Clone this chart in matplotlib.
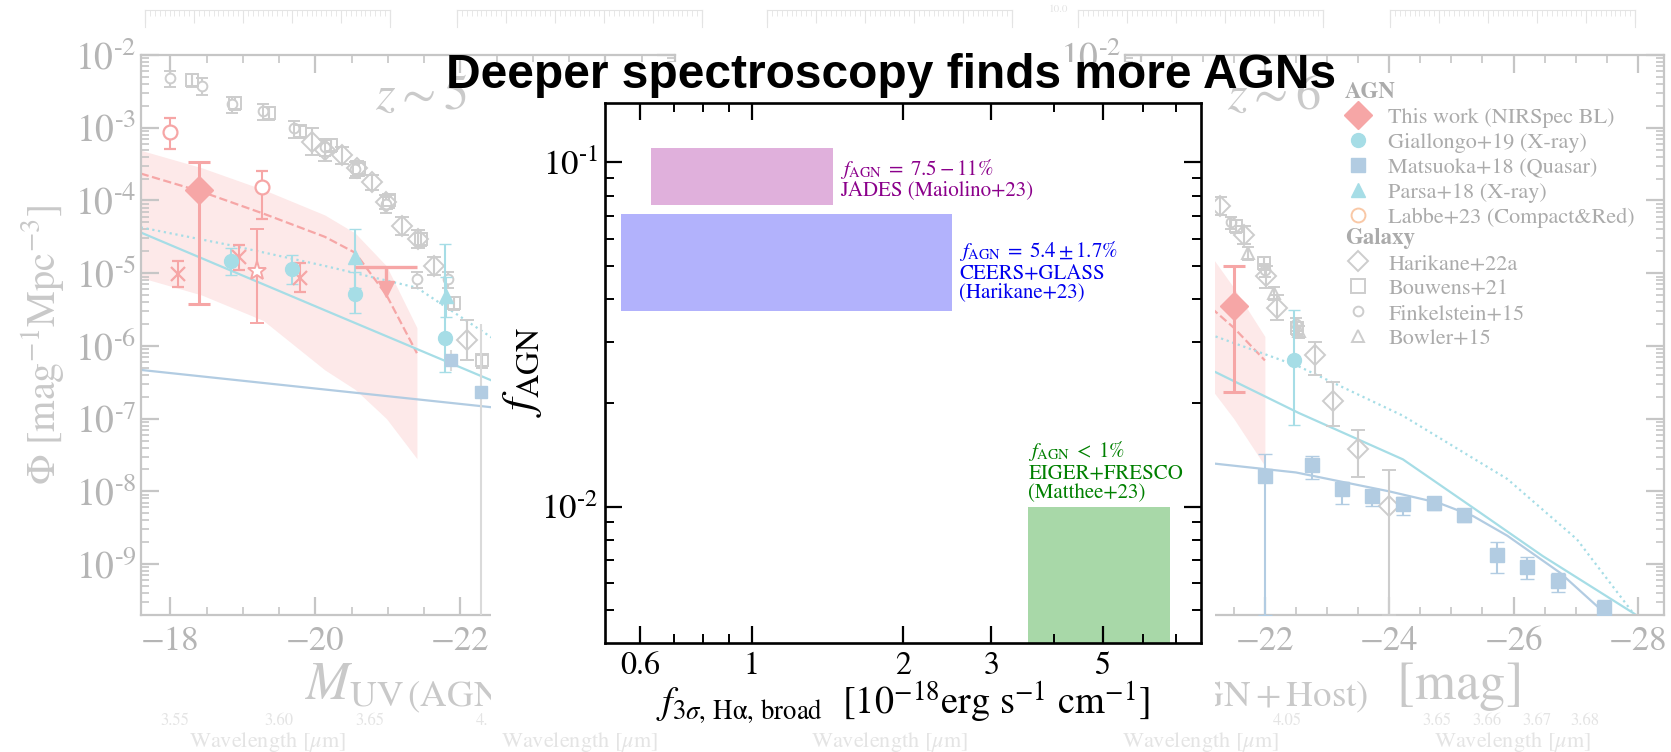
import numpy as np
import matplotlib
matplotlib.use('Agg')
from matplotlib import pyplot as plt
from matplotlib.lines import Line2D
from matplotlib.patches import Rectangle
from matplotlib.ticker import FixedLocator, FuncFormatter, LogLocator, MultipleLocator, NullFormatter

plt.rcParams['font.family'] = ['STIXGeneral', 'DejaVu Sans']
plt.rcParams['mathtext.fontset'] = 'stix'

W, H = 1671, 752

# ---------------- central panel data ----------------
jades_x = [0.63, 1.45]
jades_y = [0.075, 0.11]
ceers_x = [0.55, 2.5]
ceers_y = [0.037, 0.071]
eiger_x = [3.55, 6.8]
eiger_y = [0.001, 0.01]
x_major = [0.6, 1, 2, 3, 5]
x_minor = [0.7, 0.8, 0.9, 4, 6, 7]

# ---------------- background z~5 panel (log10 Phi) ----------------
fink5_M = [-18.0, -18.43, -18.85, -19.28, -19.7, -20.13, -20.55, -20.98, -21.4, -21.83]
fink5_p = [-2.32, -2.42, -2.67, -2.77, -3.01, -3.27, -3.57, -4.05, -5.08, -5.08]
bouw5_M = [-18.3, -18.89, -19.36, -19.79, -20.21, -20.6, -21.02, -21.45, -21.91, -22.3]
bouw5_p = [-2.34, -2.66, -2.80, -3.05, -3.24, -3.56, -4.00, -4.53, -5.41, -6.20]
hari5_M = [-19.95, -20.13, -20.36, -20.57, -20.78, -20.98, -21.2, -21.42, -21.63, -22.09]
hari5_p = [-3.19, -3.31, -3.38, -3.56, -3.75, -4.02, -4.35, -4.53, -4.90, -5.92]
hari5_e = [0.18, 0.15, 0.12, 0.1, 0.1, 0.1, 0.12, 0.12, 0.12, 0.28]

tw5_M = [-18.4]
tw5_p = [-3.85]
tw5_lo = [-5.43]
tw5_hi = [-3.47]
ocir5_M = [-18.0, -19.27]
ocir5_p = [-3.06, -3.82]
ocir5_lo = [-3.29, -4.25]
ocir5_hi = [-2.86, -3.59]
cross5_M = [-18.1, -18.94, -19.79]
cross5_p = [-5.01, -4.78, -5.06]
cross5_e = [0.18, 0.17, 0.2]
star5_M = [-19.19]
star5_p = [-4.97]
star5_lo = [-5.68]
star5_hi = [-4.39]
gial5_M = [-18.83, -19.68, -20.54, -21.79]
gial5_p = [-4.83, -4.94, -5.28, -5.89]
gial5_lo = [-5.02, -5.15, -5.55, -6.36]
gial5_hi = [-4.65, -4.75, -4.98, -4.60]
pars5_M = [-20.54, -21.8]
pars5_p = [-4.78, -5.31]
pars5_lo = [-5.20, -5.60]
pars5_hi = [-4.39, -5.05]
mats5_M = [-21.87, -22.29]
mats5_p = [-6.19, -6.64]
mats5_lo = [-6.35, -9.70]
mats5_hi = [-6.05, -5.70]
ulim5_M = [-20.55, -21.4]
ulim5_p = -4.92
ulim5_arrow = [-20.97, -5.22]

band5_M = [-17.59, -18.43, -19.28, -20.13, -20.55, -20.98, -21.4]
band5_hi = [-3.31, -3.55, -3.85, -4.20, -4.45, -4.90, -5.75]
band5_lo = [-5.06, -5.30, -5.65, -6.33, -6.60, -7.00, -7.55]
dash5_p = [-3.63, -3.88, -4.18, -4.50, -4.72, -5.30, -6.10]
cyan5_M = [-17.59, -20.13, -22.68]
cyan5_p = [-4.44, -5.51, -6.58]
dot5_M = [-17.59, -18.85, -20.13, -21.4, -22.68]
dot5_p = [-4.37, -4.62, -4.90, -5.20, -6.05]
steel5_M = [-17.59, -22.68]
steel5_p = [-6.33, -6.87]

# ---------------- background z~6 panel ----------------
hari6_M = [-21.28, -21.67, -22.01, -22.2, -22.81, -23.09, -23.5, -24.0]
hari6_p = [-4.08, -4.47, -5.04, -5.48, -6.13, -6.76, -7.42, -8.20]
hari6_lo = [-4.2, -4.6, -5.2, -5.65, -6.4, -7.1, -7.8, -9.7]
hari6_hi = [-3.95, -4.35, -4.9, -5.3, -5.95, -6.5, -7.15, -7.7]
bouw6_M = [-21.53, -21.98, -22.52]
bouw6_p = [-4.35, -4.86, -5.75]
fink6_M = [-21.45, -22.0, -22.5]
fink6_p = [-4.30, -4.95, -5.70]
bowl6_M = [-21.73, -22.15, -22.55]
bowl6_p = [-4.72, -5.27, -5.80]

tw6_M = [-21.51]
tw6_p = [-5.45]
tw6_lo = [-6.63]
tw6_hi = [-4.90]
gial6_M = [-22.47]
gial6_p = [-6.20]
gial6_lo = [-7.09]
gial6_hi = [-5.50]
mats6_M = [-22.0, -22.75, -23.24, -23.73, -24.22, -24.72, -25.2, -25.73, -26.21, -26.71, -27.45]
mats6_p = [-7.79, -7.64, -7.97, -8.07, -8.17, -8.16, -8.33, -8.88, -9.04, -9.23, -9.60]
mats6_lo = [-9.70, -7.83, -8.18, -8.20, -8.32, -8.25, -8.42, -9.12, -9.20, -9.38, -9.70]
mats6_hi = [-7.49, -7.51, -7.87, -7.98, -8.08, -8.08, -8.25, -8.70, -8.90, -9.12, -9.50]

band6_M = [-20.0, -21.1, -21.5, -22.0]
band6_hi = [-4.20, -4.72, -5.20, -5.87]
band6_lo = [-5.90, -6.55, -7.00, -7.65]
dash6_p = [-4.90, -5.45, -5.75, -6.20]
steel6_M = [-20.0, -21.1, -22.5, -24.0, -24.8, -25.35, -25.9, -26.75, -27.5]
steel6_p = [-7.52, -7.61, -7.74, -8.00, -8.16, -8.34, -8.61, -9.12, -9.70]
cyan6_M = [-20.0, -21.11, -22.54, -24.22, -25.34, -26.47, -27.92, -28.4]
cyan6_p = [-5.85, -6.32, -6.92, -7.56, -8.22, -8.89, -9.67, -9.95]
dot6_M = [-20.0, -21.11, -22.54, -24.22, -25.9, -27.02, -27.92]
dot6_p = [-5.40, -5.84, -6.28, -6.96, -7.83, -8.66, -9.67]

# faded colours of the background slide
RED = '#F6A6A6'
BAND = '#FDE9E9'
CYAN = '#A6DDE6'
STEEL = '#B2CCE2'
GRAY = '#CDCDCD'
ORANGE = '#F9C8A6'
AXC = '#C6C6C6'
TXC = '#B5B5B5'


def box(x0, y0, x1, y1):
    # pixel box measured from the top left -> figure fraction
    return [x0 / W, 1 - y1 / H, (x1 - x0) / W, (y1 - y0) / H]


def p10(v):
    return 10 ** np.asarray(v, dtype=float)


def pow_label(v, _):
    return r'$10^{\text{%d}}$' % round(np.log10(v))


def lf_axes(rect, xlim, mag_shown, dex_shown):
    # only the labels not hidden by the inset are written
    ax = fig.add_axes(rect)
    ax.set_yscale('log')
    ax.set_xlim(xlim)
    ax.set_ylim(10 ** -9.7, 1e-2)
    for s in ax.spines.values():
        s.set_color(AXC)
        s.set_linewidth(1.6)
    ax.xaxis.set_major_locator(MultipleLocator(2))
    ax.xaxis.set_minor_locator(MultipleLocator(0.5))
    ax.xaxis.set_major_formatter(FuncFormatter(
        lambda v, _: '\u2212%d' % abs(round(v)) if mag_shown[0] >= v >= mag_shown[1] else ''))
    ax.yaxis.set_major_locator(LogLocator(base=10, numticks=20))
    ax.yaxis.set_minor_locator(LogLocator(base=10, subs=np.arange(2, 10), numticks=20))
    ax.yaxis.set_minor_formatter(NullFormatter())
    ax.yaxis.set_major_formatter(FuncFormatter(
        lambda v, _: pow_label(v, _) if np.log10(v) >= dex_shown - 0.01 else ''))
    ax.tick_params(which='both', direction='in', top=True, right=True, color=AXC,
                   labelcolor=TXC)
    ax.tick_params(axis='x', labelsize=25, pad=8)
    ax.tick_params(axis='y', labelsize=27, pad=3)
    ax.tick_params(which='major', length=13, width=1.6)
    ax.tick_params(which='minor', length=6, width=1.2)
    ax.set_facecolor('none')
    return ax


def errs(p, lo, hi):
    p = p10(p)
    return [p - p10(lo), p10(hi) - p]


fig = plt.figure(figsize=(W / 100, H / 100), dpi=100)

# ---------- left background panel (z~5) ----------
axl = lf_axes(box(140.7, 55, 675, 615), (-17.59, -24.96), (-17.0, -23.0), -10)
axl.fill_between(band5_M, p10(band5_lo), p10(band5_hi), color=BAND, lw=0, zorder=1)
axl.plot(band5_M, p10(dash5_p), '--', color=RED, lw=1.6, zorder=2)
axl.plot(cyan5_M, p10(cyan5_p), '-', color=CYAN, lw=1.6, zorder=2)
axl.plot(dot5_M, p10(dot5_p), ':', color=CYAN, lw=1.6, zorder=2)
axl.plot(steel5_M, p10(steel5_p), '-', color=STEEL, lw=1.6, zorder=2)
axl.errorbar(fink5_M, p10(fink5_p), yerr=p10(fink5_p) * 0.25, fmt='o', ms=7, mfc='white',
             mec=GRAY, ecolor=GRAY, capsize=4, mew=1.4, zorder=3)
axl.errorbar(bouw5_M, p10(bouw5_p), yerr=p10(bouw5_p) * 0.2, fmt='s', ms=9, mfc='none',
             mec=GRAY, ecolor=GRAY, capsize=4, mew=1.4, zorder=3)
axl.errorbar(hari5_M, p10(hari5_p), yerr=[p10(hari5_p) * (1 - 10 ** -np.array(hari5_e)),
             p10(hari5_p) * (10 ** np.array(hari5_e) - 1)], fmt='D', ms=10, mfc='none',
             mec=GRAY, ecolor=GRAY, capsize=5, mew=1.4, zorder=3)
axl.errorbar(tw5_M, p10(tw5_p), yerr=errs(tw5_p, tw5_lo, tw5_hi), fmt='D', ms=14, color=RED,
             ecolor=RED, elinewidth=2.2, capsize=8, capthick=2.2, zorder=5)
axl.errorbar(ocir5_M, p10(ocir5_p), yerr=errs(ocir5_p, ocir5_lo, ocir5_hi), fmt='o', ms=10,
             mfc='white', mec=RED, ecolor=RED, capsize=4, mew=1.6, zorder=4)
axl.errorbar(cross5_M, p10(cross5_p), yerr=[p10(cross5_p) * (1 - 10 ** -np.array(cross5_e)),
             p10(cross5_p) * (10 ** np.array(cross5_e) - 1)], fmt='x', ms=10, color=RED,
             ecolor=RED, capsize=4, mew=1.6, zorder=4)
axl.errorbar(star5_M, p10(star5_p), yerr=errs(star5_p, star5_lo, star5_hi), fmt='*', ms=14,
             mfc='white', mec=RED, ecolor=RED, capsize=5, mew=1.4, zorder=4)
axl.errorbar(gial5_M, p10(gial5_p), yerr=errs(gial5_p, gial5_lo, gial5_hi), fmt='o', ms=10,
             color=CYAN, ecolor=CYAN, capsize=4, zorder=4)
axl.errorbar(pars5_M, p10(pars5_p), yerr=errs(pars5_p, pars5_lo, pars5_hi), fmt='^', ms=10,
             color=CYAN, ecolor=CYAN, capsize=4, zorder=4)
axl.errorbar(mats5_M, p10(mats5_p), yerr=errs(mats5_p, mats5_lo, mats5_hi), fmt='s', ms=9,
             color=STEEL, ecolor='#DADADA', capsize=0, zorder=4)
axl.hlines(10 ** ulim5_p, ulim5_M[0], ulim5_M[1], color=RED, lw=2.4, zorder=4)
axl.vlines(ulim5_arrow[0], 10 ** ulim5_arrow[1], 10 ** ulim5_p, color=RED, lw=2.4, zorder=4)
axl.plot(ulim5_arrow[0], 10 ** ulim5_arrow[1], 'v', ms=12, color=RED, zorder=4)
axl.text((375 - 140.7) / 534.3, (615 - 97) / 560, r'$z\sim5$', transform=axl.transAxes,
         ha='left', va='center', fontsize=36, color='#CACACA')
axl.set_ylabel(r'$\Phi\ [\mathrm{mag}^{-1}\mathrm{Mpc}^{-3}]$', fontsize=29, color='#C9C9C9')
axl.yaxis.label.set_va('center')
axl.yaxis.set_label_coords(-(140.7 - 43) / 534.3, (615 - 345) / 560)
axl.set_xlabel(r'$M_{\rm UV\,(AGN+Host)}$  [mag]', fontsize=38, color='#C9C9C9')
axl.xaxis.label.set_va('center')
axl.xaxis.label.set_ha('left')
axl.xaxis.set_label_coords((305 - 140.7) / 534.3, -(688 - 615) / 560)

# ---------- right background panel (z~6) ----------
axr = lf_axes(box(1125, 55, 1664, 615), (-19.75, -28.42), (-21.0, -29.0), -2)
axr.fill_between(band6_M, p10(band6_lo), p10(band6_hi), color=BAND, lw=0, zorder=1)
axr.plot(band6_M, p10(dash6_p), '--', color=RED, lw=1.6, zorder=2)
axr.plot(steel6_M, p10(steel6_p), '-', color=STEEL, lw=1.6, zorder=2)
axr.plot(cyan6_M, p10(cyan6_p), '-', color=CYAN, lw=1.6, zorder=2)
axr.plot(dot6_M, p10(dot6_p), ':', color=CYAN, lw=1.6, zorder=2)
axr.errorbar(hari6_M, p10(hari6_p), yerr=errs(hari6_p, hari6_lo, hari6_hi), fmt='D', ms=10,
             mfc='none', mec=GRAY, ecolor=GRAY, capsize=5, mew=1.4, zorder=3)
axr.errorbar(bouw6_M, p10(bouw6_p), yerr=p10(bouw6_p) * 0.2, fmt='s', ms=9, mfc='none',
             mec=GRAY, ecolor=GRAY, capsize=4, mew=1.4, zorder=3)
axr.errorbar(fink6_M, p10(fink6_p), yerr=p10(fink6_p) * 0.2, fmt='o', ms=7, mfc='none',
             mec=GRAY, ecolor=GRAY, capsize=4, mew=1.4, zorder=3)
axr.errorbar(bowl6_M, p10(bowl6_p), yerr=p10(bowl6_p) * 0.2, fmt='^', ms=9, mfc='none',
             mec=GRAY, ecolor=GRAY, capsize=4, mew=1.4, zorder=3)
axr.errorbar(tw6_M, p10(tw6_p), yerr=errs(tw6_p, tw6_lo, tw6_hi), fmt='D', ms=14, color=RED,
             ecolor=RED, elinewidth=2.2, capsize=8, capthick=2.2, zorder=5)
axr.errorbar(gial6_M, p10(gial6_p), yerr=errs(gial6_p, gial6_lo, gial6_hi), fmt='o', ms=10,
             color=CYAN, ecolor=CYAN, capsize=4, zorder=4)
axr.errorbar(mats6_M, p10(mats6_p), yerr=errs(mats6_p, mats6_lo, mats6_hi), fmt='s', ms=10,
             color=STEEL, ecolor=STEEL, capsize=5, zorder=4)
axr.text((1321 - 1125) / 539, (615 - 97) / 560, r'$z\sim6$', transform=axr.transAxes,
         ha='right', va='center', fontsize=36, color='#CACACA')
axr.set_xlabel(r'$M_{\rm UV\,(AGN+Host)}$  [mag]', fontsize=38, color='#C9C9C9')
axr.xaxis.label.set_va('center')
axr.xaxis.label.set_ha('right')
axr.xaxis.set_label_coords((1520 - 1125) / 539, -(688 - 615) / 560)

agn_handles = [
    Line2D([], [], ls='none', marker='D', ms=14, color=RED),
    Line2D([], [], ls='none', marker='o', ms=10, color=CYAN),
    Line2D([], [], ls='none', marker='s', ms=10, color=STEEL),
    Line2D([], [], ls='none', marker='^', ms=10, color=CYAN),
    Line2D([], [], ls='none', marker='o', ms=10, mfc='none', mec=ORANGE, mew=1.4),
]
agn_labels = ['This work (NIRSpec BL)', 'Giallongo+19 (X-ray)', 'Matsuoka+18 (Quasar)',
              'Parsa+18 (X-ray)', 'Labbe+23 (Compact&Red)']
gal_handles = [
    Line2D([], [], ls='none', marker='D', ms=10, mfc='none', mec=GRAY, mew=1.4),
    Line2D([], [], ls='none', marker='s', ms=10, mfc='none', mec=GRAY, mew=1.4),
    Line2D([], [], ls='none', marker='o', ms=7, mfc='none', mec=GRAY, mew=1.4),
    Line2D([], [], ls='none', marker='^', ms=9, mfc='none', mec=GRAY, mew=1.4),
]
gal_labels = ['Harikane+22a', 'Bouwens+21', 'Finkelstein+15', 'Bowler+15']
leg_kw = dict(frameon=False, fontsize=16, labelcolor='#ABABAB', handlelength=1.2, handletextpad=0.75,
              borderpad=0, borderaxespad=0, labelspacing=0.2, loc='upper left',
              title_fontproperties={'weight': 'bold', 'size': 16.5})
leg1 = axr.legend(agn_handles, agn_labels, title='AGN',
                  bbox_to_anchor=((1345 - 1125) / 539, (615 - 82) / 560), **leg_kw)
leg1._legend_box.align = 'left'
leg1.get_title().set_color('#ABABAB')
axr.add_artist(leg1)
leg2 = axr.legend(gal_handles, gal_labels, title='Galaxy',
                  bbox_to_anchor=((1345 - 1125) / 539, (615 - 228) / 560), **leg_kw)
leg2._legend_box.align = 'left'
leg2.get_title().set_color('#ABABAB')

# ---------- faint strips of the slide (spectra panels) ----------
for x0 in [145, 457, 767, 1078, 1390]:
    st = fig.add_axes(box(x0, 10, x0 + 245, 27))
    st.set_facecolor('none')
    st.spines['bottom'].set_visible(False)
    for s in ['top', 'left', 'right']:
        st.spines[s].set_color('#E4E4E4')
    st.set_xlim(0, 100)
    st.xaxis.set_major_locator(MultipleLocator(20))
    st.xaxis.set_minor_locator(MultipleLocator(2))
    st.tick_params(which='both', direction='in', bottom=False, top=True, left=False,
                   labelbottom=False, labelleft=False, color='#E4E4E4')
    st.tick_params(which='major', length=9)
    st.tick_params(which='minor', length=4)
    fig.text((x0 + 122) / W, 1 - 742 / H, r'Wavelength [$\mu$m]', ha='center', va='center',
             fontsize=16, color='#E4E4E4', zorder=1)
for lab, xp in [('3.55', 175), ('3.60', 279), ('3.65', 370), ('4.', 482), ('4.05', 1287),
                ('3.65', 1437), ('3.66', 1487), ('3.67', 1537), ('3.68', 1585)]:
    fig.text(xp / W, 1 - 721 / H, lab, ha='center', va='center', fontsize=12, color='#E4E4E4', zorder=1)
fig.text(1058 / W, 1 - 9 / H, '10.0', ha='center', va='center', fontsize=8, color='#E4E4E4')

# white inset behind the main panel
fig.patches.append(Rectangle((491 / W, 1 - 730 / H), (1215 - 491) / W, (730 - 62) / H,
                             transform=fig.transFigure, facecolor='white', edgecolor='none', zorder=5))

# ---------- central panel ----------
ax = fig.add_axes(box(605, 102.7, 1201, 643))
ax.set_zorder(10)
ax.set_xscale('log')
ax.set_yscale('log')
ax.set_xlim(0.51, 7.84)
ax.set_ylim(0.00402, 0.149)
ax.fill_between(jades_x, jades_y[0], jades_y[1], color='#E0B0DC', lw=0)
ax.fill_between(ceers_x, ceers_y[0], ceers_y[1], color='#B2B2FC', lw=0)
ax.fill_between(eiger_x, eiger_y[0], eiger_y[1], color='#A8D8A8', lw=0)
ax.text(jades_x[1] * 1.035, 0.0897,
        '$f_{\\rm AGN}\\;=\\;7.5-11\\%$\nJADES (Maiolino+23)', color='#8B008B', fontsize=15,
        ha='left', va='center', linespacing=1.0)
ax.text(ceers_x[1] * 1.035, 0.0484,
        '$f_{\\rm AGN}\\;=\\;5.4\\pm1.7\\%$\nCEERS+GLASS\n(Harikane+23)', color='#0000EE', fontsize=15,
        ha='left', va='center', linespacing=1.0)
ax.text(eiger_x[0], 0.0127,
        '$f_{\\rm AGN}\\;<\\;1\\%$\nEIGER+FRESCO\n(Matthee+23)', color='#008000', fontsize=15,
        ha='left', va='center', linespacing=1.0)

ax.xaxis.set_major_locator(FixedLocator(x_major))
ax.xaxis.set_minor_locator(FixedLocator(x_minor))
ax.xaxis.set_major_formatter(FuncFormatter(lambda v, _: '%g' % v))
ax.xaxis.set_minor_formatter(NullFormatter())
ax.yaxis.set_major_locator(LogLocator(base=10, numticks=10))
ax.yaxis.set_minor_locator(LogLocator(base=10, subs=np.arange(2, 10), numticks=10))
ax.yaxis.set_major_formatter(FuncFormatter(pow_label))
ax.yaxis.set_minor_formatter(NullFormatter())
for s in ax.spines.values():
    s.set_linewidth(1.9)
ax.tick_params(which='both', direction='in', top=True, right=True, color='k')
ax.tick_params(axis='x', labelsize=23, pad=6)
ax.tick_params(axis='y', labelsize=25, pad=5)
ax.tick_params(which='major', length=12, width=1.6)
ax.tick_params(which='minor', length=6.5, width=1.4)

ax.set_xlabel(r'$f_{3\sigma,\,\rm H\alpha,\,broad}$  [$10^{-18}$erg s$^{-1}$ cm$^{-1}$]', fontsize=27.5)
ax.xaxis.label.set_va('center')
ax.xaxis.set_label_coords(0.5, -(703 - 643) / 540.3)
ax.set_ylabel(r'$f_{\rm AGN}$', fontsize=33)
ax.yaxis.label.set_va('center')
ax.yaxis.set_label_coords(-(605 - 523) / 596, (643 - 372) / 540.3)

fig.text(891 / W, 1 - 88 / H, 'Deeper spectroscopy finds more AGNs', ha='center', va='baseline',
         fontsize=34.5, fontweight='bold', family='Liberation Sans', color='black', zorder=20)

fig.savefig('out.png', dpi=100)
